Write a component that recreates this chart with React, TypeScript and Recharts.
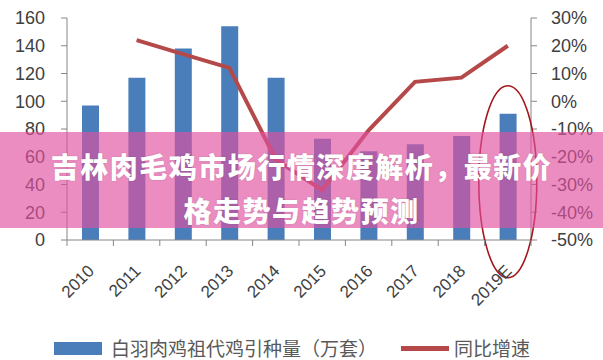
import {
  Bar,
  ComposedChart,
  Legend,
  Line,
  ReferenceDot,
  XAxis,
  YAxis,
} from "recharts";

const YEARS = ["2010", "2011", "2012", "2013", "2014", "2015", "2016", "2017", "2018", "2019E"];
const INTRO = [97, 117, 138, 154, 117, 73, 64, 69, 75, 91]; // 万套
const GROWTH = [null, 22, 17, 12, -21, -32, -10.5, 7, 8.5, 20]; // %
const LEFT_TICKS = [0, 20, 40, 60, 80, 100, 120, 140, 160];
const RIGHT_TICKS = [-50, -40, -30, -20, -10, 0, 10, 20, 30];

const BAR_NAME = "白羽肉鸡祖代鸡引种量（万套）";
const LINE_NAME = "同比增速";
const TITLE = ["吉林肉毛鸡市场行情深度解析，最新价", "格走势与趋势预测"];

const BLUE = "#4a7ebb";
const RED = "#b5494a";
const AXIS = "#868686";
const FONT = '"Liberation Sans", Arial, sans-serif';
const CJK = '"Noto Sans CJK SC", "Noto Sans", sans-serif';

const data = YEARS.map((year, i) => ({ year, intro: INTRO[i], growth: GROWTH[i] }));

function YearTick(props: any) {
  const { x, y, payload, index } = props;
  const half = payload.offset ?? 23;
  return (
    <g>
      <line x1={x - half} y1={y - 8} x2={x - half} y2={y - 2} stroke={AXIS} />
      {index === YEARS.length - 1 && (
        <line x1={x + half} y1={y - 8} x2={x + half} y2={y - 2} stroke={AXIS} />
      )}
      <text
        x={x + 5}
        y={y + 24}
        textAnchor="end"
        transform={`rotate(-45 ${x + 5} ${y + 24})`}
        fill="#404040"
        fontSize={17}
        fontFamily={FONT}
      >
        {payload.value}
      </text>
    </g>
  );
}

function Ellipse(props: any) {
  const { cx, cy } = props;
  return <ellipse cx={cx} cy={cy} rx={29} ry={96} fill="none" stroke="#a3161c" strokeWidth={1.6} />;
}

function LegendBox() {
  return (
    <div
      style={{
        height: 40,
        boxSizing: "border-box",
        paddingTop: 16,
        paddingLeft: 54,
        display: "flex",
        alignItems: "center",
        fontFamily: CJK,
        fontSize: 19,
        lineHeight: "22px",
        color: "#595959",
      }}
    >
      <span style={{ width: 48, height: 13, background: BLUE, display: "inline-block" }} />
      <span style={{ marginLeft: 9 }}>{BAR_NAME}</span>
      <span
        style={{ width: 48, height: 5, background: RED, display: "inline-block", marginLeft: 24 }}
      />
      <span style={{ marginLeft: 5 }}>{LINE_NAME}</span>
    </div>
  );
}

export default function App() {
  return (
    <div style={{ position: "relative", width: 603, height: 360, background: "#fff" }}>
      <style>{"body{margin:0}"}</style>
      <ComposedChart
        width={603}
        height={360}
        data={data}
        margin={{ top: 18, right: 0, left: 0, bottom: 0 }}
      >
        <XAxis
          dataKey="year"
          height={80}
          stroke={AXIS}
          tickLine={false}
          tick={<YearTick />}
          interval={0}
        />
        <YAxis
          yAxisId="left"
          width={67}
          domain={[0, 160]}
          ticks={LEFT_TICKS}
          stroke={AXIS}
          tickSize={6}
          tickMargin={16}
          tick={{ fill: "#404040", fontSize: 18, fontFamily: FONT }}
        />
        <YAxis
          yAxisId="right"
          orientation="right"
          width={72}
          domain={[-50, 30]}
          ticks={RIGHT_TICKS}
          stroke={AXIS}
          tickSize={6}
          tickMargin={14}
          tickFormatter={(v: number) => `${v}%`}
          tick={{ fill: "#404040", fontSize: 18, fontFamily: FONT, textAnchor: "start" }}
        />
        <Legend
          verticalAlign="bottom"
          content={() => <LegendBox />}
          wrapperStyle={{ left: 0, width: 603 }}
        />
        <Bar
          yAxisId="left"
          dataKey="intro"
          name={BAR_NAME}
          fill={BLUE}
          barSize={17}
          isAnimationActive={false}
        />
        <Line
          yAxisId="right"
          dataKey="growth"
          name={LINE_NAME}
          type="linear"
          stroke={RED}
          strokeWidth={4}
          dot={false}
          isAnimationActive={false}
        />
        <ReferenceDot yAxisId="left" x="2019E" y={42} shape={<Ellipse />} />
      </ComposedChart>
      <div
        style={{
          position: "absolute",
          left: 0,
          top: 132,
          width: 603,
          height: 96,
          boxSizing: "border-box",
          paddingTop: 12,
          background: "rgba(225,80,160,0.65)",
          color: "#fff",
          fontFamily: CJK,
          fontWeight: 900,
          fontSize: 28,
          lineHeight: "44px",
          letterSpacing: 1.5,
          textAlign: "center",
          textShadow: "0 0 2px rgba(0,0,0,0.15)",
        }}
      >
        <div>{TITLE[0]}</div>
        <div>{TITLE[1]}</div>
      </div>
    </div>
  );
}
